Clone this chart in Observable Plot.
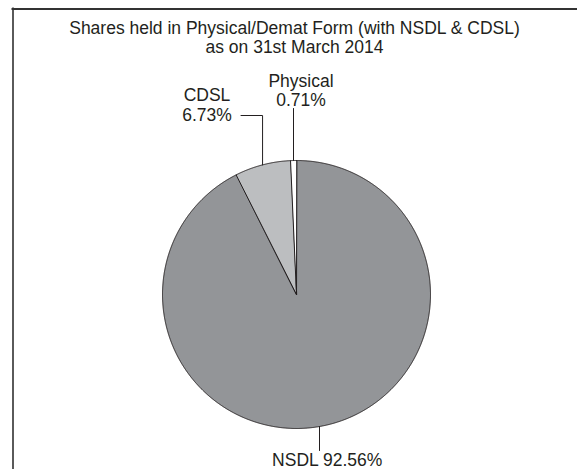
<!DOCTYPE html>
<html>
<head>
<meta charset="utf-8">
<script src="https://cdn.jsdelivr.net/npm/d3@7"></script>
<script src="https://cdn.jsdelivr.net/npm/@observablehq/plot@0.6"></script>
<style>
  html, body { margin: 0; padding: 0; background: #fff; }
  #chart svg { display: block; }
</style>
</head>
<body>
<div id="chart"></div>
<script>
// ---- data ----
const categories = ["NSDL", "CDSL", "Physical"];
const shares = [92.56, 6.73, 0.71];
const sliceColors = ["#939598", "#bcbec0", "#ffffff"];
const titleLines = ["Shares held in Physical/Demat Form (with NSDL & CDSL)", "as on 31st March 2014"];

// ---- layout (pixel helpers: pie centre and radius as scale origin/unit) ----
const W = 577, H = 469, CX = 296, CY = 294, R = 134;
const X = px => (px - CX) / R;
const Y = py => (CY - py) / R;
const ink = "#231f20";
const FS = 17.5;

// pie angles from the data (clockwise from 12 o'clock)
const arcs = d3.pie().sort(null).startAngle(0).endAngle(2 * Math.PI)(shares);

function slicePolygon(a) {
  const pts = [{x: 0, y: 0}];
  const n = Math.max(2, Math.ceil((a.endAngle - a.startAngle) / (Math.PI / 720)));
  for (let i = 0; i <= n; i++) {
    const t = a.startAngle + (a.endAngle - a.startAngle) * i / n;
    pts.push({x: Math.sin(t), y: Math.cos(t)});
  }
  return pts;
}

const sliceMarks = arcs.map((a, i) =>
  Plot.line(slicePolygon(a), {
    x: "x", y: "y", curve: "linear-closed",
    fill: sliceColors[i], stroke: ink, strokeWidth: 1, strokeLinejoin: "round"
  })
);

const mid = a => (a.startAngle + a.endAngle) / 2;
const aN = arcs[0], aC = arcs[1], aP = arcs[2];

// leader lines
const physLeader = [{x: Math.sin(mid(aP)), y: Math.cos(mid(aP))}, {x: Math.sin(mid(aP)), y: Y(108)}];
const cdslLeader = [{x: Math.sin(mid(aC)), y: Math.cos(mid(aC))}, {x: Math.sin(mid(aC)), y: Y(115)}, {x: X(240.5), y: Y(115)}];
const nx = X(319);
const nsdlLeader = [{x: nx, y: -Math.sqrt(1 - nx * nx)}, {x: nx, y: Y(450)}];

const fmt = v => d3.format(".2f")(v) + "%";

const plot = Plot.plot({
  width: W, height: H,
  margin: 0,
  x: {domain: [X(0), X(W)], axis: null},
  y: {domain: [Y(H), Y(0)], axis: null},
  style: {fontFamily: "'Liberation Sans', Arial, Helvetica, sans-serif", color: ink, background: "#fff"},
  marks: [
    // frame
    Plot.ruleX([X(12.5)], {y1: Y(7.5), y2: Y(H), stroke: "#5a5a5a", strokeWidth: 2}),
    Plot.ruleY([Y(8.5)], {x1: X(11.5), x2: X(W), stroke: "#333", strokeWidth: 2}),
    // title
    Plot.text([titleLines.join("\n")], {x: X(294), y: Y(52.3), text: d => d, lineAnchor: "bottom",
      lineHeight: 19 / FS, fontSize: FS, fill: ink, textAnchor: "middle"}),
    // slices
    ...sliceMarks,
    // leaders
    Plot.line(physLeader, {x: "x", y: "y", stroke: ink, strokeWidth: 1}),
    Plot.line(cdslLeader, {x: "x", y: "y", stroke: ink, strokeWidth: 1}),
    Plot.line(nsdlLeader, {x: "x", y: "y", stroke: ink, strokeWidth: 1}),
    // labels
    Plot.text([categories[2] + "\n" + fmt(shares[2])], {x: X(300.5), y: Y(105), text: d => d,
      lineAnchor: "bottom", lineHeight: 19 / FS, fontSize: FS, fill: ink}),
    Plot.text([categories[1] + "\n" + fmt(shares[1])], {x: X(206.5), y: Y(120.7), text: d => d,
      lineAnchor: "bottom", lineHeight: 20 / FS, fontSize: FS, fill: ink}),
    Plot.text([categories[0] + " " + fmt(shares[0])], {x: X(326.7), y: Y(465), text: d => d,
      lineAnchor: "bottom", fontSize: FS, fill: ink})
  ]
});
document.getElementById("chart").appendChild(plot);
</script>
</body>
</html>
